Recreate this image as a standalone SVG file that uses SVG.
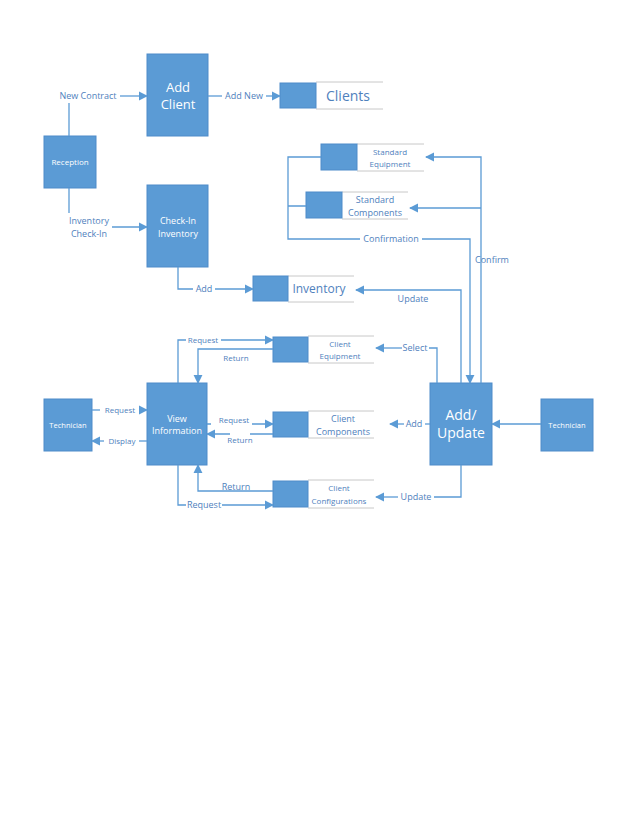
<svg xmlns="http://www.w3.org/2000/svg" width="638" height="826" viewBox="0 0 638 826">
<style>
.p{fill:#5b9bd5;stroke:#4f8bc9;stroke-width:1}
.w{fill:#fff;font-family:"Open Sans","Liberation Sans",sans-serif;text-anchor:middle}
.l{fill:#4f81bd;font-family:"Open Sans","Liberation Sans",sans-serif;text-anchor:middle;font-size:9px}
.ds{fill:#fff;stroke:#c8c8c8;stroke-width:1}
.c path{fill:none;stroke:#5b9bd5;stroke-width:1.3}
</style>
<defs><marker id="a" viewBox="0 0 10 10" refX="9" refY="5" markerWidth="7" markerHeight="7" orient="auto"><path d="M0,0L10,5L0,10z" fill="#5b9bd5"/></marker></defs>
<rect width="638" height="826" fill="#fff"/>
<g id="addclient"><rect class="p" x="147" y="54" width="61" height="82"/><text class="w" x="178" y="92" font-size="13">Add</text><text class="w" x="178" y="109" font-size="13">Client</text></g>
<g id="reception"><rect class="p" x="44" y="136" width="52" height="52"/><text class="w" x="70" y="165" font-size="8">Reception</text></g>
<g id="checkin"><rect class="p" x="147" y="185" width="61" height="82"/><text class="w" x="178" y="224" font-size="9">Check-In</text><text class="w" x="178" y="237" font-size="9">Inventory</text></g>
<g id="clients"><path class="ds" d="M316,82H383M316,109H383"/><rect class="p" x="280" y="83" width="36" height="25"/><text class="l" x="348" y="101" font-size="14" style="font-size:14px">Clients</text></g>
<g id="stdequip"><path class="ds" d="M357,144H424M357,171H424"/><rect class="p" x="321" y="144" width="36" height="26"/><text class="l" x="390" y="155" style="font-size:8px">Standard</text><text class="l" x="390" y="167" style="font-size:8px">Equipment</text></g>
<g id="stdcomp"><path class="ds" d="M342,192H408M342,219H408"/><rect class="p" x="306" y="192" width="36" height="26"/><text class="l" x="375" y="203">Standard</text><text class="l" x="375" y="216">Components</text></g>
<g id="inventory"><path class="ds" d="M288,276H354M288,302H354"/><rect class="p" x="253" y="276" width="35" height="25"/><text class="l" x="319" y="293" style="font-size:12px">Inventory</text></g>
<g id="clientequip"><path class="ds" d="M308,336H374M308,363H374"/><rect class="p" x="273" y="337" width="35" height="25"/><text class="l" x="340" y="347" style="font-size:8px">Client</text><text class="l" x="340" y="359" style="font-size:8px">Equipment</text></g>
<g id="clientcomp"><path class="ds" d="M308,411H374M308,438H374"/><rect class="p" x="273" y="412" width="35" height="25"/><text class="l" x="343" y="422">Client</text><text class="l" x="343" y="435">Components</text></g>
<g id="clientconf"><path class="ds" d="M308,480H374M308,508H374"/><rect class="p" x="273" y="481" width="35" height="26"/><text class="l" x="339" y="491" style="font-size:8px">Client</text><text class="l" x="339" y="504" style="font-size:8px">Configurations</text></g>
<g id="addupdate"><rect class="p" x="430" y="383" width="62" height="82"/><text class="w" x="461" y="420" font-size="14">Add/</text><text class="w" x="461" y="438" font-size="14">Update</text></g>
<g id="tech2"><rect class="p" x="541" y="399" width="52" height="52"/><text class="w" x="567" y="428" font-size="7.5">Technician</text></g>
<g id="tech1"><rect class="p" x="44" y="399" width="48" height="52"/><text class="w" x="68" y="428" font-size="7.5">Technician</text></g>
<g id="viewinfo"><rect class="p" x="147" y="383" width="60" height="82"/><text class="w" x="177" y="422" font-size="9">View</text><text class="w" x="177" y="434" font-size="9">Information</text></g>
<g class="c" id="connectors">
<path d="M69,136V103"/><path d="M120,96H147" marker-end="url(#a)"/>
<path d="M208,96H222"/><path d="M266,96H280" marker-end="url(#a)"/>
<path d="M69,188V213"/><path d="M112,227H147" marker-end="url(#a)"/>
<path d="M178,267V289H193"/><path d="M215,289H253" marker-end="url(#a)"/>
<path d="M321,157H288V239H360M288,206H306"/><path d="M422,239H470V383" marker-end="url(#a)"/>
<path d="M481,383V157H426" marker-end="url(#a)"/><path d="M481,208H410" marker-end="url(#a)"/>
<path d="M461,383V290H356" marker-end="url(#a)"/>
<path d="M437,383V348H429"/><path d="M402,348H376" marker-end="url(#a)"/>
<path d="M430,424H425"/><path d="M404,424H390" marker-end="url(#a)"/>
<path d="M461,465V497H434"/><path d="M398,497H376" marker-end="url(#a)"/>
<path d="M541,424H492" marker-end="url(#a)"/>
<path d="M178,383V340H186"/><path d="M221,340H273" marker-end="url(#a)"/>
<path d="M273,349H198V383" marker-end="url(#a)"/>
<path d="M92,410H100"/><path d="M139,410H147" marker-end="url(#a)"/>
<path d="M147,441H139"/><path d="M104,441H92" marker-end="url(#a)"/>
<path d="M207,424H211M252,424H273" marker-end="url(#a)"/>
<path d="M273,434H250M230,434H207" marker-end="url(#a)"/>
<path d="M273,491H198V465" marker-end="url(#a)"/>
<path d="M178,465V505H186M222,505H273" marker-end="url(#a)"/>
</g>
<g id="labels">
<text class="l" x="88" y="99">New Contract</text>
<text class="l" x="244" y="99">Add New</text>
<text class="l" x="89" y="224">Inventory</text><text class="l" x="89" y="237">Check-In</text>
<text class="l" x="204" y="292">Add</text>
<text class="l" x="391" y="242">Confirmation</text>
<text class="l" x="492" y="263">Confirm</text>
<text class="l" x="413" y="302">Update</text>
<text class="l" x="415" y="351">Select</text>
<text class="l" x="414" y="427">Add</text>
<text class="l" x="416" y="500">Update</text>
<text class="l" x="203" y="343" style="font-size:8px">Request</text>
<text class="l" x="236" y="361" style="font-size:8px">Return</text>
<text class="l" x="120" y="413" style="font-size:8px">Request</text>
<text class="l" x="122" y="444" style="font-size:8px">Display</text>
<text class="l" x="234" y="423" style="font-size:8px">Request</text>
<text class="l" x="240" y="443" style="font-size:8px">Return</text>
<text class="l" x="236" y="490">Return</text>
<text class="l" x="204" y="508">Request</text>
</g>
</svg>
